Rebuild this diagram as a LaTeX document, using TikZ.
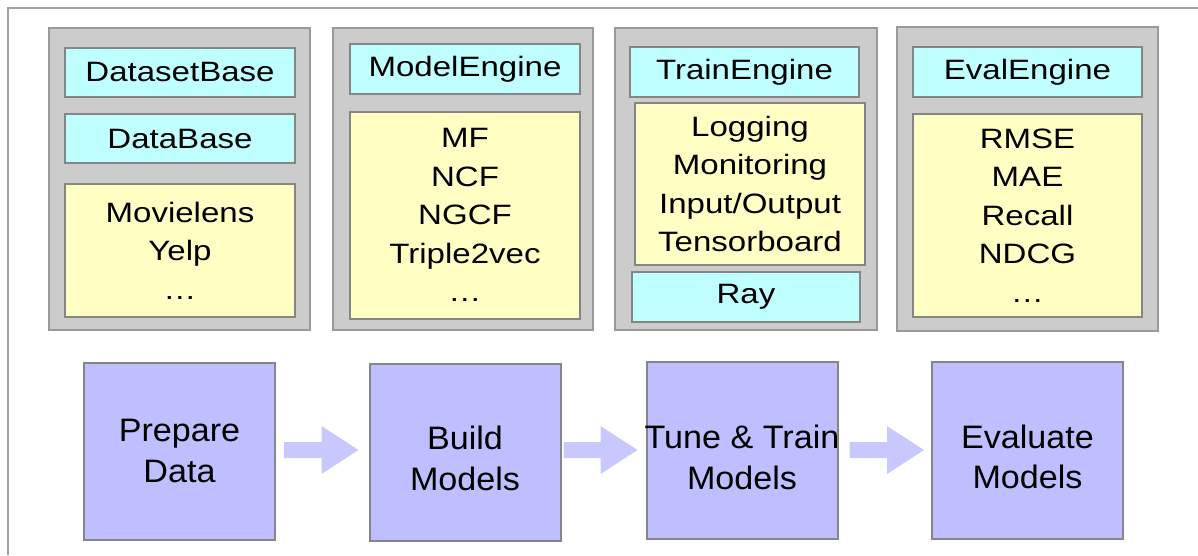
\documentclass[tikz,border=0pt]{standalone}
\usepackage{fontspec}
\setmainfont{Liberation Sans}
\newfontfamily\topf[FakeStretch=1.18]{Liberation Sans}
\newfontfamily\botf[FakeStretch=1.05]{Liberation Sans}
\usetikzlibrary{calc}
\definecolor{panelfill}{HTML}{CCCCCC}
\definecolor{panelline}{HTML}{999999}
\definecolor{boxline}{HTML}{858585}
\definecolor{cyanfill}{HTML}{BFFFFF}
\definecolor{yellowfill}{HTML}{FFFFC4}
\definecolor{purplefill}{HTML}{BFBFFF}
\definecolor{arrowfill}{HTML}{C8C8FF}
\definecolor{frameline}{HTML}{A0A0A0}
\tikzset{
  panel/.style={draw=panelline, fill=panelfill, line width=2pt, inner sep=0pt},
  cyanbox/.style={draw=boxline, fill=cyanfill, line width=2pt, inner sep=0pt,
    font=\topf\fontsize{28}{38.6}\selectfont},
  yellowbox/.style={draw=boxline, fill=yellowfill, line width=2pt, inner sep=0pt,
    align=center, font=\topf\fontsize{28}{38.6}\selectfont},
  stagebox/.style={draw=boxline, fill=purplefill, line width=2pt, inner sep=0pt,
    minimum width=191pt, minimum height=177pt},
  stagetext/.style={inner sep=0pt, align=center,
    font=\botf\fontsize{32.5}{40.5}\selectfont},
}
\newcommand{\fatarrow}[2]{%
  \fill[arrowfill] ($(#1)+(0,8)$) -- ($(#2)+(-37,8)$) -- ($(#2)+(-37,24)$) -- (#2)
    -- ($(#2)+(-37,-24)$) -- ($(#2)+(-37,-8)$) -- ($(#1)+(0,-8)$) -- cycle;}
\begin{document}
\begin{tikzpicture}[x=1pt, y=-1pt]
\useasboundingbox (0,0) rectangle (1198,555);
% outer frame (cropped)
\coordinate (fa) at (8,555);
\coordinate (fb) at (8,8);
\coordinate (fc) at (1198,8);
\draw[frameline, line width=1.6pt] (fa) -- (fb) -- (fc);

% panels
\node[panel, minimum width=261pt, minimum height=302pt] (p1) at (179.5,179) {};
\node[panel, minimum width=260pt, minimum height=302pt] (p2) at (463,179) {};
\node[panel, minimum width=262pt, minimum height=302pt] (p3) at (746,179) {};
\node[panel, minimum width=261pt, minimum height=304pt] (p4) at (1027.5,179) {};

% panel 1
\node[cyanbox, minimum width=230pt, minimum height=49pt] (dsb) at (180,72.5) {DatasetBase};
\node[cyanbox, minimum width=230pt, minimum height=49pt] (db) at (180,138.5) {DataBase};
\node[yellowbox, minimum width=230pt, minimum height=133pt] (ds) at (180,250.5) {Movielens\\Yelp\\\dots};

% panel 2
\node[cyanbox, minimum width=230pt, minimum height=50pt] (me) at (465,69) {ModelEngine};
\node[yellowbox, minimum width=230pt, minimum height=207pt] (models) at (465,215) {MF\\NCF\\NGCF\\Triple2vec\\\dots};

% panel 3
\node[cyanbox, minimum width=229pt, minimum height=50pt] (te) at (744.5,72) {TrainEngine};
\node[yellowbox, minimum width=230pt, minimum height=162pt] (tools) at (750,184) {Logging\\Monitoring\\Input/Output\\Tensorboard};
\node[cyanbox, minimum width=228pt, minimum height=50pt] (ray) at (746,297) {Ray};

% panel 4
\node[cyanbox, minimum width=229pt, minimum height=50pt] (ee) at (1027.5,72) {EvalEngine};
\node[yellowbox, minimum width=229pt, minimum height=203pt] (metrics) at (1027.5,215.5) {RMSE\\MAE\\Recall\\NDCG\\\dots};

% stages
\node[stagebox] (prep) at (179.5,451.5) {};
\node[stagebox] (build) at (465,452) {};
\node[stagebox] (tune) at (742,450.5) {};
\node[stagebox] (eval) at (1027.5,450) {};
\node[stagetext] (prept) at ($(prep.center)+(0,-0.5)$) {Prepare\\Data};
\node[stagetext] (buildt) at ($(build.center)+(0,6.5)$) {Build\\Models};
\node[stagetext] (tunet) at ($(tune.center)+(0,7)$) {Tune \& Train\\Models};
\node[stagetext] (evalt) at ($(eval.center)+(0,7)$) {Evaluate\\Models};

% fat arrows
\coordinate (a1s) at ($(prep.east)+(8,-1.5)$);
\coordinate (a1t) at ($(build.west)+(-10,-2)$);
\coordinate (a2s) at ($(build.east)+(2,-2)$);
\coordinate (a2t) at ($(tune.west)+(-8,-0.5)$);
\coordinate (a3s) at ($(tune.east)+(11,-0.5)$);
\coordinate (a3t) at ($(eval.west)+(-7,0)$);
\fatarrow{a1s}{a1t}
\fatarrow{a2s}{a2t}
\fatarrow{a3s}{a3t}
\end{tikzpicture}
\end{document}
